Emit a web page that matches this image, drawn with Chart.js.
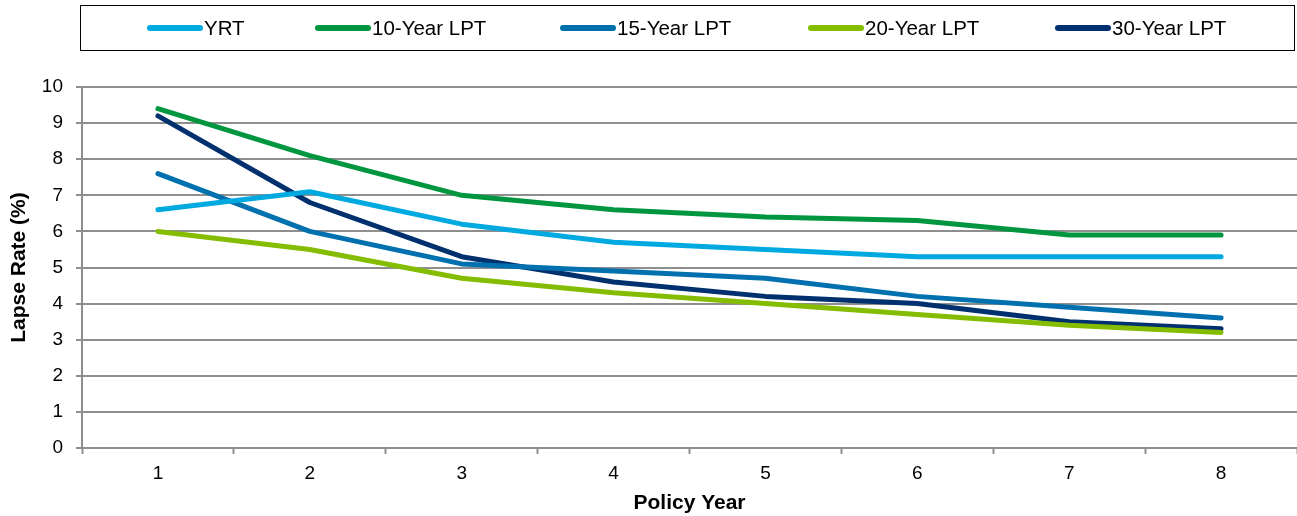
<!DOCTYPE html>
<html>
<head>
<meta charset="utf-8">
<script src="https://cdn.jsdelivr.net/npm/chart.js@4/dist/chart.umd.min.js"></script>
<style>
    html, body { margin: 0; padding: 0; background: #fff; }
    #wrap { width: 1297px; height: 516px; }
</style>
</head>
<body>
<div id="wrap"><canvas id="lapseChart" width="1297" height="516"></canvas></div>
<script>
// Policy years on the x axis
const policyYears = ['1', '2', '3', '4', '5', '6', '7', '8'];
const yTicks = [0, 1, 2, 3, 4, 5, 6, 7, 8, 9, 10];

// Lapse rates (%) per product
const yrt = [6.6, 7.1, 6.2, 5.7, 5.5, 5.3, 5.3, 5.3];
const lpt10 = [9.4, 8.1, 7.0, 6.6, 6.4, 6.3, 5.9, 5.9];
const lpt15 = [7.6, 6.0, 5.1, 4.9, 4.7, 4.2, 3.9, 3.6];
const lpt20 = [6.0, 5.5, 4.7, 4.3, 4.0, 3.7, 3.4, 3.2];
const lpt30 = [9.2, 6.8, 5.3, 4.6, 4.2, 4.0, 3.5, 3.3];

const FONT = "'Liberation Sans', Arial, sans-serif";
const GRID = '#8e8e8e';

const makeSet = (label, data, color) => ({
    label: label,
    data: data,
    borderColor: color,
    backgroundColor: color,
    borderWidth: 5,
    pointRadius: 0,
    tension: 0,
    borderCapStyle: 'round',
    borderJoinStyle: 'round',
    fill: false
});

// legend drawn in a box across the top, like the source chart
const boxLegend = {
    id: 'boxLegend',
    afterDraw(chart) {
        const ctx = chart.ctx;
        const slots = [147, 315, 560, 808, 1055];
        ctx.save();
        ctx.strokeStyle = '#000';
        ctx.lineWidth = 1;
        ctx.strokeRect(80.5, 5.5, 1214, 45);
        ctx.font = '20.5px ' + FONT;
        ctx.textBaseline = 'middle';
        ctx.fillStyle = '#000';
        chart.data.datasets.forEach((ds, i) => {
            const x = slots[i];
            ctx.beginPath();
            ctx.strokeStyle = ds.borderColor;
            ctx.lineWidth = 6;
            ctx.lineCap = 'round';
            ctx.moveTo(x + 3, 28);
            ctx.lineTo(x + 53, 28);
            ctx.stroke();
            ctx.fillText(ds.label, x + 57, 29);
        });
        ctx.restore();
    }
};

new Chart(document.getElementById('lapseChart'), {
    type: 'line',
    data: {
        labels: policyYears,
        datasets: [
            makeSet('YRT', yrt, '#00a9e0'),
            makeSet('10-Year LPT', lpt10, '#00963f'),
            makeSet('15-Year LPT', lpt15, '#0071ae'),
            makeSet('20-Year LPT', lpt20, '#84bd00'),
            makeSet('30-Year LPT', lpt30, '#00306e')
        ]
    },
    options: {
        responsive: false,
        animation: false,
        layout: { padding: { top: 87, left: 0, right: 0, bottom: 0 } },
        plugins: {
            legend: { display: false },
            tooltip: { enabled: false }
        },
        scales: {
            x: {
                offset: true,
                afterFit: (scale) => { scale.height = 68; },
                grid: {
                    offset: true,
                    drawOnChartArea: false,
                    drawTicks: true,
                    tickLength: 6,
                    tickWidth: 2,
                    tickColor: GRID
                },
                border: { color: GRID, width: 2 },
                ticks: {
                    color: '#000',
                    padding: 8,
                    maxRotation: 0,
                    font: { family: FONT, size: 19 }
                },
                title: {
                    display: true,
                    text: 'Policy Year',
                    color: '#000',
                    padding: { top: 0, bottom: 0 },
                    font: { family: FONT, size: 21, weight: 'bold' }
                }
            },
            y: {
                min: 0,
                max: 10,
                afterFit: (scale) => { scale.width = 82; },
                afterBuildTicks: (scale) => { scale.ticks = yTicks.map(v => ({ value: v })); },
                grid: {
                    color: GRID,
                    lineWidth: 2,
                    drawTicks: true,
                    tickLength: 6,
                    tickColor: GRID
                },
                border: { color: GRID, width: 2 },
                ticks: {
                    color: '#000',
                    padding: 13,
                    font: { family: FONT, size: 19 }
                },
                title: {
                    display: true,
                    text: 'Lapse Rate (%)',
                    color: '#000',
                    padding: { top: 7, bottom: 0 },
                    font: { family: FONT, size: 21, weight: 'bold' }
                }
            }
        }
    },
    plugins: [boxLegend]
});
</script>
</body>
</html>
